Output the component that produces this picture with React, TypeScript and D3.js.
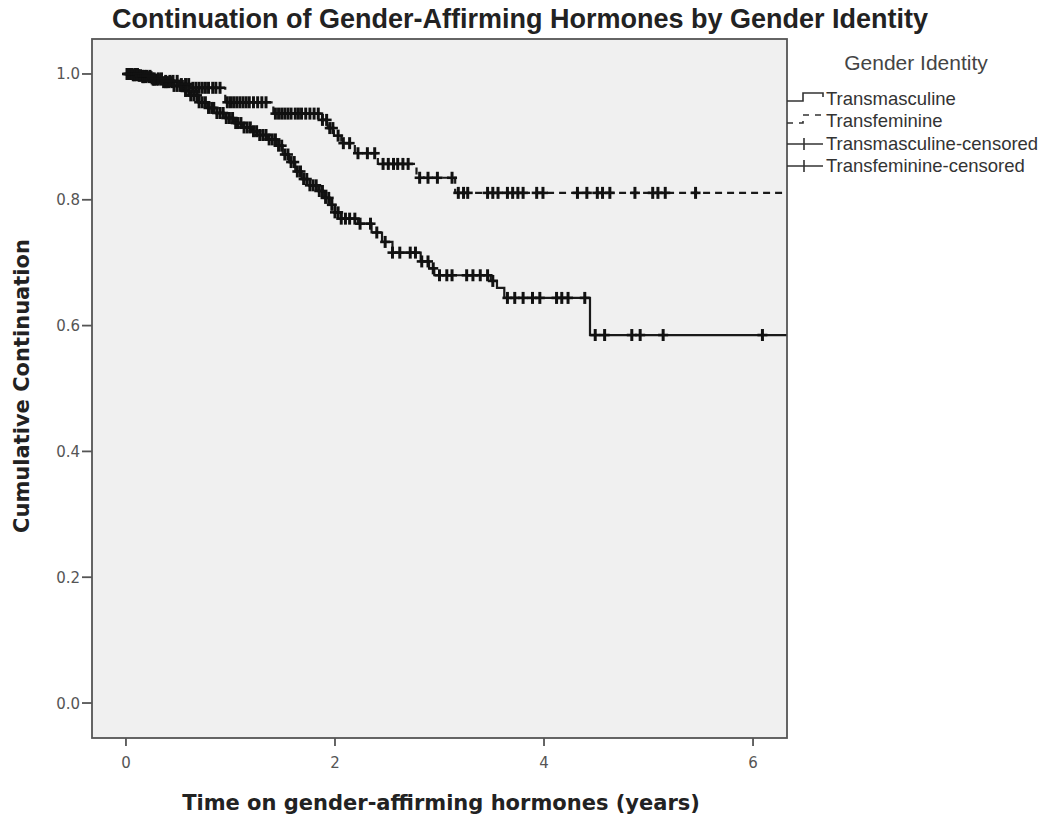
import React, { useRef, useEffect } from "react";
import * as d3 from "d3";

// Kaplan-Meier steps: [years on hormones, cumulative continuation after the step]
const mascSteps: [number, number][] = [
  [0.06, 0.998], [0.15, 0.995], [0.25, 0.991], [0.35, 0.987], [0.45, 0.981],
  [0.55, 0.973], [0.62, 0.966], [0.7, 0.955], [0.78, 0.946], [0.87, 0.938],
  [0.95, 0.93], [1.04, 0.922], [1.12, 0.915], [1.2, 0.909], [1.28, 0.903],
  [1.36, 0.896], [1.44, 0.886], [1.5, 0.872], [1.56, 0.86], [1.62, 0.845],
  [1.68, 0.833], [1.76, 0.823], [1.84, 0.814], [1.9, 0.803], [1.95, 0.792],
  [2.0, 0.78], [2.06, 0.77], [2.22, 0.762], [2.35, 0.748], [2.45, 0.733],
  [2.55, 0.716], [2.82, 0.702], [2.9, 0.691], [2.95, 0.68], [3.49, 0.671],
  [3.55, 0.66], [3.62, 0.644], [4.44, 0.585],
];

const femSteps: [number, number][] = [
  [0.12, 0.997], [0.25, 0.993], [0.38, 0.989], [0.5, 0.984], [0.62, 0.978],
  [0.95, 0.955], [1.41, 0.937], [1.86, 0.927], [1.93, 0.914], [1.99, 0.902],
  [2.06, 0.89], [2.19, 0.874], [2.41, 0.857], [2.78, 0.835], [3.15, 0.811],
];

const mascCensored = [
  0.01, 0.03, 0.05, 0.07, 0.08, 0.1, 0.12, 0.14, 0.16, 0.17, 0.19, 0.22, 0.24,
  0.26, 0.27, 0.29, 0.31, 0.34, 0.36, 0.38, 0.39, 0.41, 0.44, 0.46, 0.49, 0.52,
  0.54, 0.57, 0.6, 0.62, 0.65, 0.68, 0.7, 0.73, 0.76, 0.79, 0.82, 0.84, 0.87,
  0.9, 0.93, 0.96, 0.99, 1.02, 1.05, 1.07, 1.1, 1.13, 1.16, 1.19, 1.22, 1.25,
  1.28, 1.31, 1.34, 1.37, 1.4, 1.43, 1.46, 1.49, 1.52, 1.55, 1.58, 1.61, 1.64,
  1.67, 1.7, 1.73, 1.76, 1.79, 1.82, 1.85, 1.88, 1.91, 1.94, 1.97, 2.0, 2.03,
  2.06, 2.1, 2.14, 2.19, 2.24, 2.34, 2.4, 2.48, 2.55, 2.62, 2.72, 2.77, 2.83,
  2.89, 2.94, 3.0, 3.07, 3.12, 3.26, 3.32, 3.39, 3.46, 3.51, 3.65, 3.72, 3.8,
  3.89, 3.96, 4.12, 4.17, 4.23, 4.39, 4.49, 4.58, 4.84, 4.92, 5.14, 6.09,
];

const femCensored = [
  0.02, 0.04, 0.06, 0.09, 0.11, 0.13, 0.16, 0.18, 0.2, 0.23, 0.25, 0.27, 0.31,
  0.34, 0.38, 0.42, 0.45, 0.49, 0.53, 0.57, 0.6, 0.64, 0.67, 0.7, 0.73, 0.76,
  0.79, 0.83, 0.86, 0.9, 0.97, 1.0, 1.03, 1.06, 1.09, 1.12, 1.15, 1.18, 1.22,
  1.26, 1.3, 1.34, 1.43, 1.46, 1.49, 1.52, 1.55, 1.58, 1.62, 1.65, 1.68, 1.72,
  1.76, 1.8, 1.84, 1.88, 1.92, 1.95, 1.98, 2.03, 2.08, 2.14, 2.22, 2.31, 2.38,
  2.46, 2.51, 2.56, 2.6, 2.65, 2.7, 2.81, 2.89, 2.98, 3.12, 3.18, 3.23, 3.27,
  3.46, 3.51, 3.56, 3.65, 3.7, 3.75, 3.8, 3.93, 3.99, 4.32, 4.41, 4.51, 4.56,
  4.63, 4.87, 5.04, 5.09, 5.16, 5.45,
];

const xTicks = [0, 2, 4, 6];
const yTicks = [0, 0.2, 0.4, 0.6, 0.8, 1.0];
const legendLabels = [
  "Transmasculine",
  "Transfeminine",
  "Transmasculine-censored",
  "Transfeminine-censored",
];
const END_TIME = 6.32;

function survivalAt(steps: [number, number][], t: number) {
  let s = 1;
  for (const [et, es] of steps) if (et <= t) s = es;
  return s;
}

export default function App() {
  const ref = useRef<SVGSVGElement>(null);
  useEffect(() => {
    const left = 92, right = 787, top = 39, bottom = 738;
    const svg = d3.select(ref.current);
    svg.selectAll("*").remove();

    const x = d3.scaleLinear().domain([-0.325, 6.325]).range([left, right]);
    const y = d3.scaleLinear().domain([-0.0556, 1.0556]).range([bottom, top]);

    svg.append("rect").attr("width", 1049).attr("height", 821).attr("fill", "#fff");

    // title
    svg.append("text")
      .attr("x", 520).attr("y", 28)
      .attr("text-anchor", "middle")
      .attr("font-family", "Liberation Sans, Arial, sans-serif")
      .attr("font-weight", "bold")
      .attr("font-size", 27)
      .attr("fill", "#222")
      .text("Continuation of Gender-Affirming Hormones by Gender Identity");

    // plot frame
    svg.append("rect")
      .attr("x", left).attr("y", top)
      .attr("width", right - left).attr("height", bottom - top)
      .attr("fill", "#f0f0f0")
      .attr("stroke", "#555")
      .attr("stroke-width", 1.8);

    // y axis
    const yAxis = svg.append("g");
    yTicks.forEach(v => {
      yAxis.append("line")
        .attr("x1", left - 10).attr("x2", left)
        .attr("y1", y(v)).attr("y2", y(v))
        .attr("stroke", "#555").attr("stroke-width", 1.8);
      yAxis.append("text")
        .attr("x", left - 12).attr("y", y(v) + 5.5)
        .attr("text-anchor", "end")
        .attr("font-family", "DejaVu Sans, Verdana, sans-serif")
        .attr("font-size", 15)
        .attr("fill", "#555")
        .text(d3.format(".1f")(v));
    });

    // x axis
    const xAxis = svg.append("g");
    xTicks.forEach(v => {
      xAxis.append("line")
        .attr("x1", x(v)).attr("x2", x(v))
        .attr("y1", bottom).attr("y2", bottom + 8)
        .attr("stroke", "#555").attr("stroke-width", 1.8);
      xAxis.append("text")
        .attr("x", x(v)).attr("y", bottom + 30)
        .attr("text-anchor", "middle")
        .attr("font-family", "DejaVu Sans, Verdana, sans-serif")
        .attr("font-size", 15)
        .attr("fill", "#555")
        .text(v);
    });

    svg.append("text")
      .attr("x", 441).attr("y", 810)
      .attr("text-anchor", "middle")
      .attr("font-family", "DejaVu Sans, Verdana, sans-serif")
      .attr("font-weight", "bold")
      .attr("font-size", 21)
      .attr("fill", "#222")
      .text("Time on gender-affirming hormones (years)");

    svg.append("text")
      .attr("transform", "translate(29,386) rotate(-90)")
      .attr("text-anchor", "middle")
      .attr("font-family", "DejaVu Sans, Verdana, sans-serif")
      .attr("font-weight", "bold")
      .attr("font-size", 21)
      .attr("fill", "#222")
      .text("Cumulative Continuation");

    const line = d3.line<[number, number]>()
      .x(d => x(d[0]))
      .y(d => y(d[1]))
      .curve(d3.curveStepAfter);

    const series = [
      { steps: mascSteps, censored: mascCensored, dash: null },
      { steps: femSteps, censored: femCensored, dash: "7,5" },
    ];

    series.forEach(s => {
      const pts: [number, number][] = [[0, 1], ...s.steps, [END_TIME, s.steps[s.steps.length - 1][1]]];
      svg.append("path")
        .attr("d", line(pts))
        .attr("fill", "none")
        .attr("stroke", "#1a1a1a")
        .attr("stroke-width", 2.2)
        .attr("stroke-dasharray", s.dash);
      // censored cases: vertical tick + short horizontal arm
      svg.append("g")
        .selectAll("line")
        .data(s.censored)
        .enter()
        .append("line")
        .attr("x1", d => x(d)).attr("x2", d => x(d))
        .attr("y1", d => y(survivalAt(s.steps, d)) - 6)
        .attr("y2", d => y(survivalAt(s.steps, d)) + 6)
        .attr("stroke", "#111")
        .attr("stroke-width", 3);
      svg.append("g")
        .selectAll("line")
        .data(s.censored)
        .enter()
        .append("line")
        .attr("x1", d => x(d) - 5).attr("x2", d => x(d) + 5)
        .attr("y1", d => y(survivalAt(s.steps, d)))
        .attr("y2", d => y(survivalAt(s.steps, d)))
        .attr("stroke", "#111")
        .attr("stroke-width", 2.6);
    });

    // legend
    const lg = svg.append("g");
    lg.append("text")
      .attr("x", 916).attr("y", 70)
      .attr("text-anchor", "middle")
      .attr("font-family", "Liberation Sans, Arial, sans-serif")
      .attr("font-size", 21)
      .attr("fill", "#444")
      .text("Gender Identity");
    const rowY = [99, 121, 144, 166];
    const symX0 = right, symX1 = 823;
    lg.append("path")
      .attr("d", `M${symX0},${rowY[0] + 2}H803V${rowY[0] - 6}H${symX1}V${rowY[0] - 2}`)
      .attr("fill", "none").attr("stroke", "#333").attr("stroke-width", 1.6);
    lg.append("path")
      .attr("d", `M${symX0},${rowY[1] + 2}H803V${rowY[1] - 6}H${symX1}V${rowY[1] - 2}`)
      .attr("fill", "none").attr("stroke", "#333").attr("stroke-width", 1.6)
      .attr("stroke-dasharray", "6,6");
    [rowY[2], rowY[3]].forEach(ry => {
      lg.append("line")
        .attr("x1", symX0).attr("x2", symX1).attr("y1", ry).attr("y2", ry)
        .attr("stroke", "#333").attr("stroke-width", 1.6);
      lg.append("line")
        .attr("x1", 804).attr("x2", 804).attr("y1", ry - 6).attr("y2", ry + 6)
        .attr("stroke", "#333").attr("stroke-width", 1.6);
    });
    legendLabels.forEach((label, i) => {
      lg.append("text")
        .attr("x", 826).attr("y", rowY[i] + 6)
        .attr("font-family", "Liberation Sans, Arial, sans-serif")
        .attr("font-size", 18.5)
        .attr("fill", "#333")
        .text(label);
    });
  }, []);
  return (
    <svg
      ref={ref}
      width={1049}
      height={821}
      style={{ position: "absolute", left: 0, top: 0 }}
    />
  );
}
